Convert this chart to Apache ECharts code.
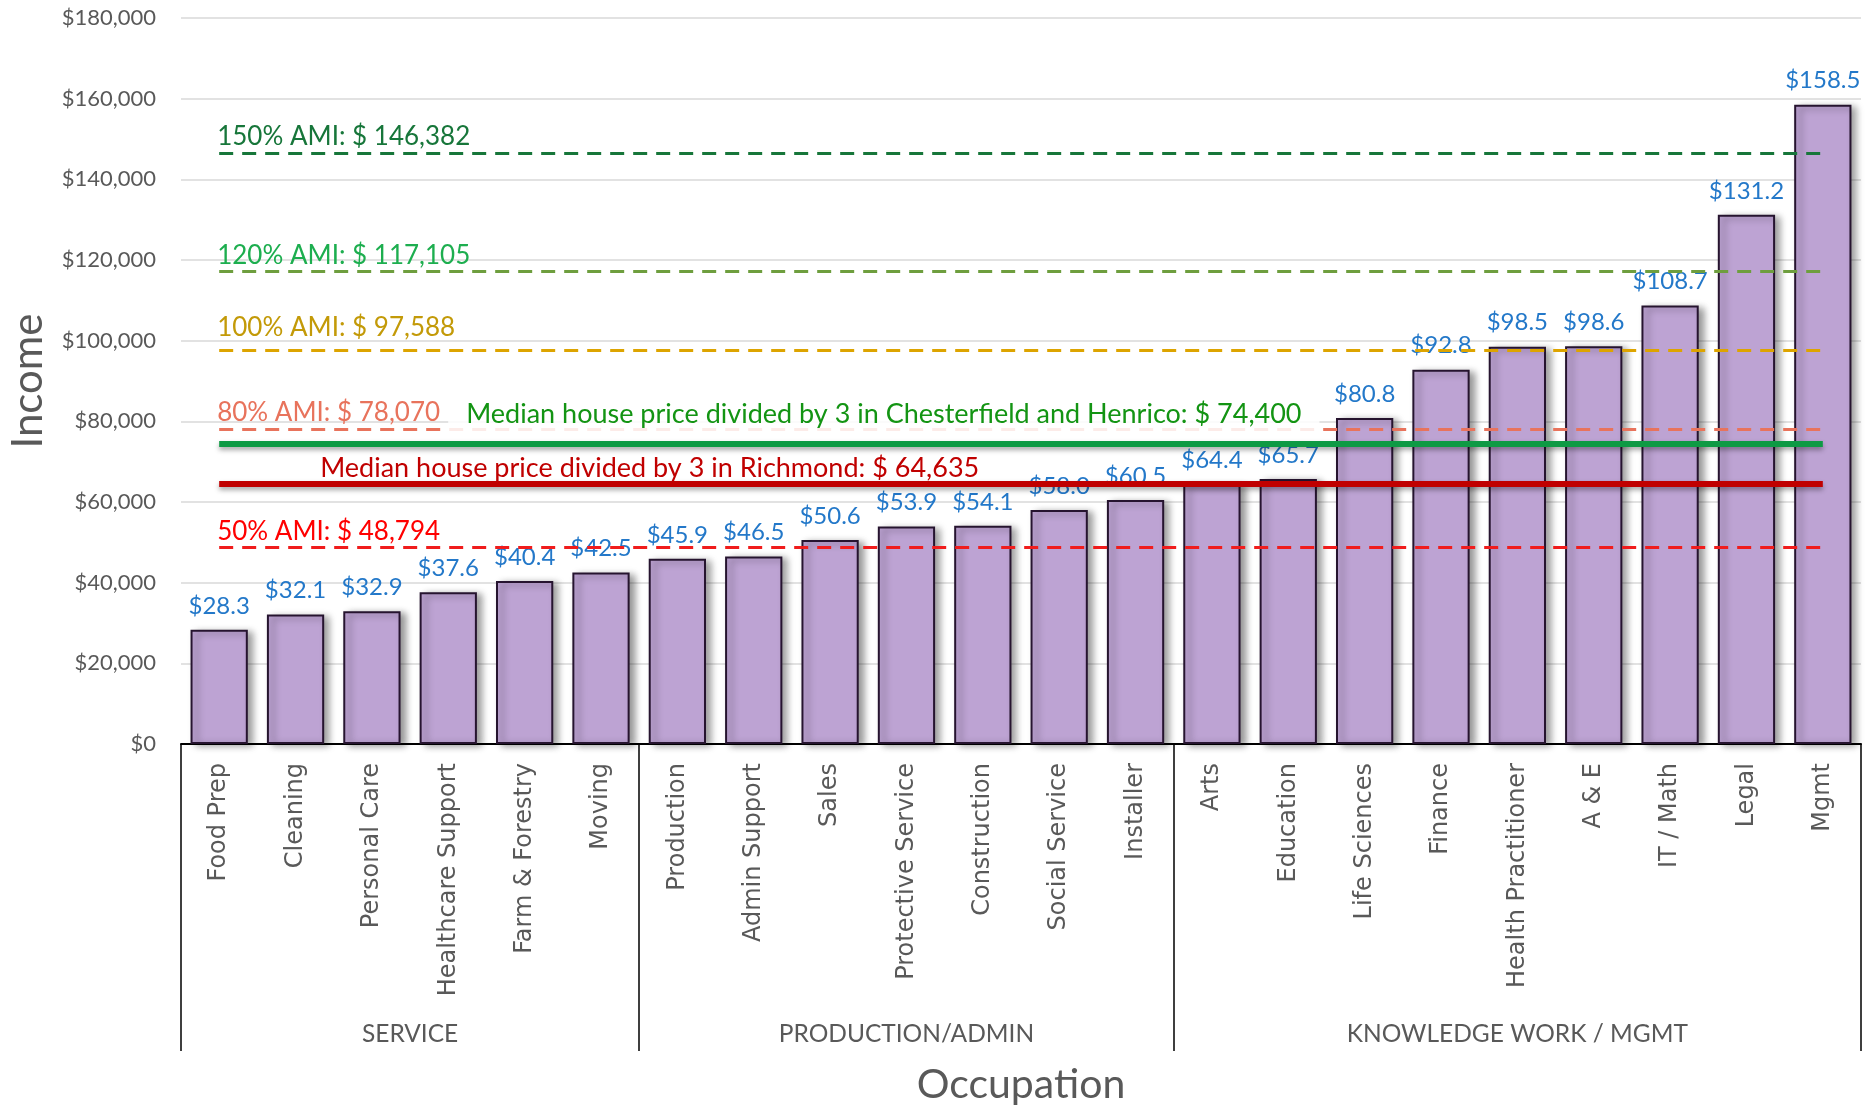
<!DOCTYPE html>
<html>
<head>
<meta charset="utf-8">
<title>Income by Occupation</title>
<script src="https://cdn.jsdelivr.net/npm/echarts@6/dist/echarts.min.js"></script>
<style>
  html, body { margin: 0; padding: 0; background: #ffffff; }
  #chart { width: 1873px; height: 1107px; }
</style>
</head>
<body>
<div id="chart"></div>
<script>
// Occupations, ordered by median income
const occupations = [
  'Food Prep', 'Cleaning', 'Personal Care', 'Healthcare Support', 'Farm & Forestry', 'Moving',
  'Production', 'Admin Support', 'Sales', 'Protective Service', 'Construction', 'Social Service', 'Installer',
  'Arts', 'Education', 'Life Sciences', 'Finance', 'Health Practitioner', 'A & E', 'IT / Math', 'Legal', 'Mgmt'
];
// Median income, in thousands of dollars
const incomeThousands = [
  28.3, 32.1, 32.9, 37.6, 40.4, 42.5,
  45.9, 46.5, 50.6, 53.9, 54.1, 58.0, 60.5,
  64.4, 65.7, 80.8, 92.8, 98.5, 98.6, 108.7, 131.2, 158.5
];
// Occupation groups (consecutive runs of the list above)
const groupNames = ['SERVICE', 'PRODUCTION/ADMIN', 'KNOWLEDGE WORK / MGMT'];
const groupSizes = [6, 7, 9];

// Income axis
const incomeMin = 0;
const incomeMax = 180000;
const incomeStep = 20000;

// Area median income thresholds
const amiNames = ['150% AMI', '120% AMI', '100% AMI', '80% AMI', '50% AMI'];
const amiValues = [146382, 117105, 97588, 78070, 48794];

// Median house price divided by 3
const houseNames = [
  'Median house price divided by 3 in Richmond',
  'Median house price divided by 3 in Chesterfield and Henrico'
];
const houseValues = [64635, 74400];

// ---- styling ----
const FONT = 'Lato, "Noto Sans", sans-serif';
const amiLineColors = ['#17763A', '#6E9E3E', '#DDA400', '#E8735C', '#F01C1C'];
const amiTextColors = ['#17763A', '#1DAE4F', '#C39A08', '#E8735C', '#FF0000'];
const amiLabelLift = [4, 3, 10, 4, 3];
const houseLineColors = ['#C00000', '#0E9A44'];
const houseTextColors = ['#C00000', '#139413'];

const money = v => '$ ' + v.toLocaleString('en-US');

// group boundaries and centres in category units
const boundaries = [-0.5];
const centres = [];
groupSizes.reduce((start, n) => {
  boundaries.push(start + n - 0.5);
  centres.push(start + (n - 1) / 2);
  return start + n;
}, 0);

const first = occupations[0];
const last = occupations[occupations.length - 1];

function refLine(value, name, lineColor, textColor, opts) {
  return [
    {
      coord: [first, value],
      lineStyle: Object.assign({ color: lineColor }, opts.line),
      label: Object.assign({
        show: true,
        position: 'insideStartTop',
        formatter: name + ': ' + money(value),
        color: textColor,
        fontFamily: FONT,
        fontSize: 26
      }, opts.label)
    },
    { coord: [last, value] }
  ];
}

const markData = [];
amiValues.forEach((v, i) => {
  markData.push(refLine(v, amiNames[i], amiLineColors[i], amiTextColors[i], {
    line: { type: [14, 9], width: 3 },
    label: { distance: [-2, amiLabelLift[i]] }
  }));
});
houseValues.forEach((v, i) => {
  const isCounty = i === 1;
  markData.push(refLine(v, houseNames[i], houseLineColors[i], houseTextColors[i], {
    line: {
      type: 'solid', width: 6,
      shadowColor: 'rgba(0,0,0,0.35)', shadowBlur: 5, shadowOffsetY: 3
    },
    label: isCounty
      ? { fontSize: 27, distance: [229, 9], backgroundColor: 'rgba(255,255,255,0.86)', padding: [5, 18, 7, 18] }
      : { fontSize: 27, distance: [101, 2] }
  }));
});

const chart = echarts.init(document.getElementById('chart'), null, { renderer: 'canvas' });

chart.setOption({
  animation: false,
  backgroundColor: '#ffffff',
  textStyle: { fontFamily: FONT },
  grid: { left: 181, right: 12, top: 18, bottom: 363, containLabel: false, outerBoundsMode: 'none' },
  xAxis: [
    {
      type: 'category',
      data: occupations,
      name: 'Occupation',
      nameLocation: 'middle',
      nameGap: 320,
      nameTextStyle: { fontFamily: FONT, fontSize: 41, color: '#595959' },
      axisLine: { show: true, lineStyle: { color: '#000000', width: 2 } },
      axisTick: { show: false },
      axisLabel: {
        rotate: 90,
        interval: 0,
        margin: 19,
        fontFamily: '"DejaVu Sans", Verdana, sans-serif',
        fontSize: 24,
        color: '#595959'
      }
    },
    {
      type: 'value',
      position: 'bottom',
      min: -0.5,
      max: occupations.length - 0.5,
      axisLine: { show: false },
      splitLine: { show: false },
      axisTick: {
        show: true,
        customValues: boundaries,
        length: 307,
        lineStyle: { color: '#000000', width: 1.5 }
      },
      axisLabel: {
        customValues: centres,
        formatter: v => groupNames[centres.indexOf(v)] || '',
        margin: 278,
        fontFamily: FONT,
        fontSize: 24.5,
        color: '#595959'
      }
    }
  ],
  yAxis: {
    type: 'value',
    min: incomeMin,
    max: incomeMax,
    interval: incomeStep,
    name: 'Income',
    nameLocation: 'middle',
    nameGap: 132,
    nameTextStyle: { fontFamily: FONT, fontSize: 42, color: '#595959' },
    axisLine: { show: false },
    axisTick: { show: false },
    splitLine: { lineStyle: { color: '#D9D9D9', width: 1.5 } },
    axisLabel: {
      margin: 25,
      fontFamily: FONT,
      fontSize: 22,
      color: '#595959',
      formatter: v => '$' + v.toLocaleString('en-US')
    }
  },
  series: [
    {
      name: 'Income',
      type: 'bar',
      xAxisIndex: 0,
      z: 2,
      barCategoryGap: '25%',
      data: incomeThousands.map(v => v * 1000),
      itemStyle: {
        color: '#BDA3D3',
        borderColor: '#26142F',
        borderWidth: 2,
        shadowColor: 'rgba(0,0,0,0.4)',
        shadowBlur: 7,
        shadowOffsetX: 5,
        shadowOffsetY: 2
      },
      label: {
        show: true,
        position: 'top',
        distance: 12,
        fontFamily: FONT,
        fontSize: 24,
        color: '#2378C9',
        formatter: p => '$' + incomeThousands[p.dataIndex].toFixed(1)
      }
    },
    {
      name: 'Thresholds',
      type: 'line',
      xAxisIndex: 0,
      z: 5,
      data: [],
      markLine: {
        silent: true,
        symbol: ['none', 'none'],
        animation: false,
        data: markData
      }
    }
  ]
});
</script>
</body>
</html>
